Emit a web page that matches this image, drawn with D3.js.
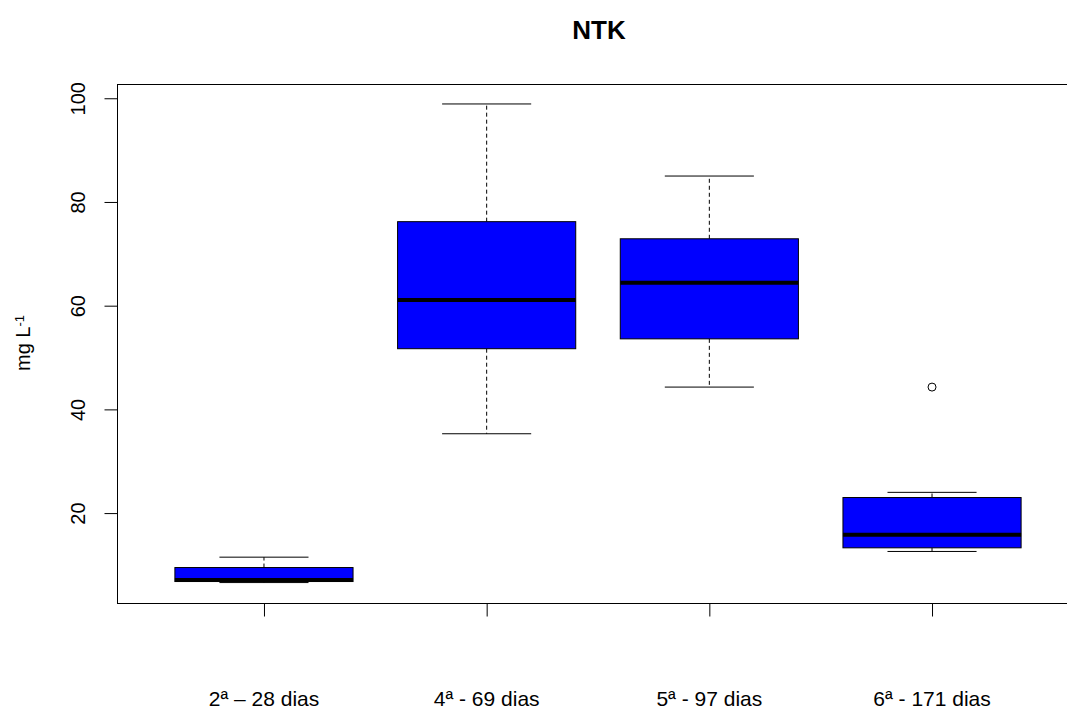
<!DOCTYPE html>
<html>
<head>
<meta charset="utf-8">
<script src="https://cdn.jsdelivr.net/npm/d3@7"></script>
<style>
  body { margin: 0; background: #fff; }
  svg { display: block; font-family: "Liberation Sans", Arial, sans-serif; }
</style>
</head>
<body>
<div id="chart"></div>
<script>
// dados
const categories = ["2ª – 28 dias", "4ª - 69 dias", "5ª - 97 dias", "6ª - 171 dias"];
const lowerWhisker = [6.6, 35.3, 44.3, 12.6];
const q1 = [6.8, 51.7, 53.6, 13.3];
const median = [7.1, 61.1, 64.4, 15.8];
const q3 = [9.5, 76.2, 72.9, 23.0];
const upperWhisker = [11.5, 98.9, 85.0, 24.0];
const outliers = [[], [], [], [44.3]];
const yTicks = [20, 40, 60, 80, 100];

const width = 1067, height = 711;
const margin = { left: 117, top: 84, right: -12, bottom: 108 };

const svg = d3.select("#chart").append("svg")
  .attr("width", width)
  .attr("height", height);

// escalas
const x = d3.scaleLinear()
  .domain([0.34, categories.length + 0.66])
  .range([margin.left, width - margin.right]);
const y = d3.scaleLinear()
  .domain([2.66, 102.75])
  .range([height - margin.bottom, margin.top]);

const unit = x(2) - x(1);
const boxW = unit * 0.8;
const capW = boxW / 2;

const data = categories.map((c, i) => ({
  c, i: i + 1,
  lo: lowerWhisker[i], q1: q1[i], med: median[i], q3: q3[i], hi: upperWhisker[i],
  out: outliers[i]
}));

const g = svg.append("g");

// bigodes tracejados, caixas e medianas
g.selectAll(".wh").data(data).enter().append("g").each(function(d) {
  const s = d3.select(this);
  const cx = x(d.i);
  s.append("line").attr("x1", cx).attr("x2", cx).attr("y1", y(d.q3)).attr("y2", y(d.hi))
    .attr("stroke", "#000").attr("stroke-dasharray", "4,3");
  s.append("line").attr("x1", cx).attr("x2", cx).attr("y1", y(d.q1)).attr("y2", y(d.lo))
    .attr("stroke", "#000").attr("stroke-dasharray", "4,3");
  s.append("line").attr("x1", cx - capW / 2).attr("x2", cx + capW / 2)
    .attr("y1", y(d.hi)).attr("y2", y(d.hi)).attr("stroke", "#000");
  s.append("line").attr("x1", cx - capW / 2).attr("x2", cx + capW / 2)
    .attr("y1", y(d.lo)).attr("y2", y(d.lo)).attr("stroke", "#000");
  s.append("rect")
    .attr("x", cx - boxW / 2).attr("width", boxW)
    .attr("y", y(d.q3)).attr("height", y(d.q1) - y(d.q3))
    .attr("fill", "#0000ff").attr("stroke", "#000").attr("stroke-width", 1);
  s.append("line").attr("x1", cx - boxW / 2).attr("x2", cx + boxW / 2)
    .attr("y1", y(d.med)).attr("y2", y(d.med))
    .attr("stroke", "#000").attr("stroke-width", 4);
  s.selectAll("circle").data(d.out).enter().append("circle")
    .attr("cx", cx).attr("cy", v => y(v)).attr("r", 4)
    .attr("fill", "none").attr("stroke", "#000");
});

// moldura
svg.append("rect")
  .attr("x", margin.left + 0.5).attr("y", margin.top + 0.5)
  .attr("width", x.range()[1] - margin.left).attr("height", y.range()[0] - margin.top)
  .attr("fill", "none").attr("stroke", "#000");

// eixo y
const yAxis = svg.append("g")
  .attr("transform", `translate(${margin.left + 0.5},0)`)
  .call(d3.axisLeft(y).tickValues(yTicks).tickSize(13).tickPadding(0));
yAxis.select(".domain").remove();
yAxis.selectAll("text").remove();
yAxis.selectAll(".tick").append("text")
  .attr("transform", "translate(-33,0) rotate(-90)")
  .attr("text-anchor", "middle")
  .attr("fill", "#000")
  .style("font-size", "20px")
  .text(d => d);

// eixo x
const xAxis = svg.append("g")
  .attr("transform", `translate(0,${y.range()[0] + 0.5})`)
  .call(d3.axisBottom(x).tickValues(data.map(d => d.i)).tickSize(13).tickFormat(""));
xAxis.select(".domain").remove();
svg.selectAll(".xlab").data(data).enter().append("text")
  .attr("x", d => x(d.i)).attr("y", 706)
  .attr("text-anchor", "middle")
  .style("font-size", "21px")
  .text(d => d.c);

// título
svg.append("text")
  .attr("x", 599).attr("y", 39)
  .attr("text-anchor", "middle")
  .style("font-size", "26px").style("font-weight", "bold")
  .text("NTK");

// rótulo do eixo y
const yl = svg.append("text")
  .attr("transform", "translate(30,343) rotate(-90)")
  .attr("text-anchor", "middle")
  .style("font-size", "20px");
yl.append("tspan").text("mg L");
yl.append("tspan").attr("dy", "-0.5em").style("font-size", "13px").text("-1");
</script>
</body>
</html>
